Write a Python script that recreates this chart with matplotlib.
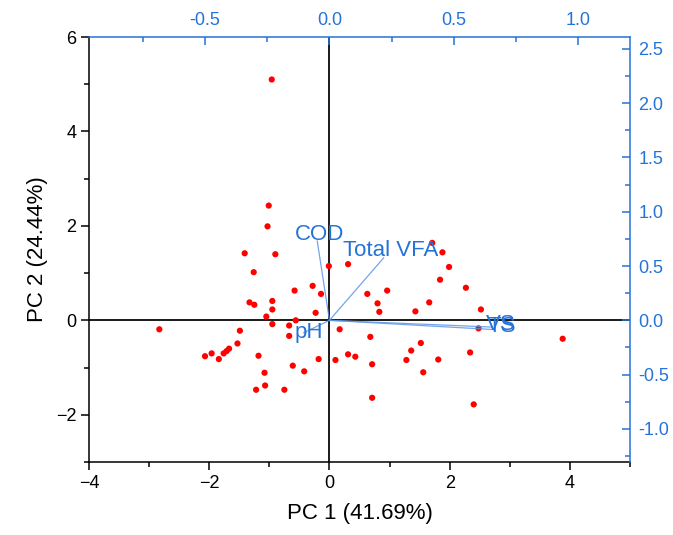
import matplotlib
matplotlib.use("Agg")
import matplotlib.pyplot as plt
from matplotlib.ticker import MultipleLocator

plt.rcParams['font.family'] = ['Liberation Sans', 'DejaVu Sans']

# ---- data: sample scores (PC1, PC2) ----
pc1 = [-0.96, -1.01, -1.03, -1.41, -0.90, -1.26, -0.01, -0.58, -0.28, -0.14,
       -1.33, -1.25, -0.95, -0.95, -1.05, -0.23, -0.56, -0.95, -0.67, -0.67,
       -2.83, -1.49, -1.53, -1.67, -1.71, -1.76, -1.96, -2.07, -1.84, -1.18,
       -0.18, -0.61, -0.42, -1.08, -1.07, -1.22, -0.75,
       1.71, 1.88, 1.99, 1.84, 2.27, 2.52, 1.66, 1.43, 0.96, 0.63,
       0.80, 0.83, 0.31, 0.17, 0.68, 2.48, 3.88, 1.52, 1.36, 2.34,
       0.31, 0.43, 0.10, 0.71, 1.28, 1.81, 1.56, 0.71, 2.40]
pc2 = [5.10, 2.43, 1.99, 1.42, 1.40, 1.02, 1.15, 0.63, 0.73, 0.56,
       0.38, 0.33, 0.41, 0.23, 0.08, 0.16, 0.00, -0.08, -0.11, -0.33,
       -0.19, -0.22, -0.49, -0.60, -0.65, -0.70, -0.70, -0.76, -0.82, -0.75,
       -0.82, -0.96, -1.08, -1.11, -1.38, -1.47, -1.47,
       1.64, 1.44, 1.13, 0.86, 0.69, 0.23, 0.38, 0.19, 0.63, 0.56,
       0.36, 0.18, 1.19, -0.19, -0.35, -0.17, -0.39, -0.48, -0.64, -0.68,
       -0.72, -0.77, -0.84, -0.93, -0.84, -0.83, -1.10, -1.64, -1.78]

# ---- data: variable loadings ----
load_names = ['COD', 'Total VFA', 'pH', 'TS', 'VS']
load_x = [-0.049, 0.218, -0.104, 0.66, 0.655]
load_y = [0.73, 0.575, -0.115, -0.085, -0.062]

# ---- axis ticks ----
x_ticks = [-4, -2, 0, 2, 4]
y_ticks = [-2, 0, 2, 4, 6]
top_ticks = [-0.5, 0.0, 0.5, 1.0]
right_ticks = [-1.0, -0.5, 0.0, 0.5, 1.0, 1.5, 2.0, 2.5]

x_label = 'PC 1 (41.69%)'
y_label = 'PC 2 (24.44%)'

# ---- styles ----
BLUE = '#2473D9'
LINEBLUE = '#5C95E6'
label_offsets = [(1.5, 5), (5, 5), (4, 0), (6, 2), (6, 2)]

fig = plt.figure(figsize=(6.73, 5.35), dpi=100)
pos = [89 / 673, 1 - 462 / 535, (630 - 89) / 673, (462 - 37) / 535]
ax = fig.add_axes(pos)

ax.set_xlim(-4, 5)
ax.set_ylim(-3, 6)
ax.axhline(0, color='#1a1a1a', lw=1.4, zorder=1)
ax.axvline(0, color='#1a1a1a', lw=1.4, zorder=1)
ax.scatter(pc1, pc2, s=20, color='#FF0000', edgecolors='none', zorder=3)

ax.set_xticks(x_ticks)
ax.set_yticks(y_ticks)
ax.xaxis.set_minor_locator(MultipleLocator(1))
ax.yaxis.set_minor_locator(MultipleLocator(1))
ax.tick_params(axis='both', which='major', direction='out', length=6, width=1.1,
               labelsize=13, colors='#000000', pad=3)
ax.tick_params(axis='both', which='minor', direction='out', length=3.5, width=1.1)
ax.set_xlabel(x_label, fontsize=16, labelpad=8)
ax.set_ylabel(y_label, fontsize=16, labelpad=6)
for s in ['left', 'bottom']:
    ax.spines[s].set_linewidth(1.1)
    ax.spines[s].set_color('#000000')
for s in ['top', 'right']:
    ax.spines[s].set_visible(False)

# loadings axes (top / right)
ax2 = fig.add_axes(pos, facecolor='none')
ax2.set_xlim(-4 / 4.136, 5 / 4.136)
ax2.set_ylim(-3 / 2.3, 6 / 2.3)
ax2.xaxis.tick_top()
ax2.yaxis.tick_right()
ax2.set_xticks(top_ticks)
ax2.set_yticks(right_ticks)
ax2.xaxis.set_minor_locator(MultipleLocator(0.25))
ax2.yaxis.set_minor_locator(MultipleLocator(0.25))
ax2.tick_params(axis='both', which='major', direction='in', length=6, width=1.1,
                labelsize=13, colors=BLUE, pad=6)
ax2.tick_params(axis='both', which='minor', direction='in', length=3.5, width=1.1,
                colors=BLUE)
ax2.xaxis.set_major_formatter(matplotlib.ticker.FormatStrFormatter('%.1f'))
ax2.yaxis.set_major_formatter(matplotlib.ticker.FormatStrFormatter('%.1f'))
for s in ['left', 'bottom']:
    ax2.spines[s].set_visible(False)
for s in ['top', 'right']:
    ax2.spines[s].set_linewidth(1.1)
    ax2.spines[s].set_color(BLUE)

for name, lx, ly, off in zip(load_names, load_x, load_y, label_offsets):
    ax2.plot([0, lx], [0, ly], color=LINEBLUE, lw=0.9, alpha=0.85, zorder=4)
    ax2.annotate(name, (lx, ly), xytext=off, textcoords='offset points',
                 ha='center', va='center', fontsize=16, color=BLUE, zorder=5)

fig.savefig('out.png', dpi=100)
